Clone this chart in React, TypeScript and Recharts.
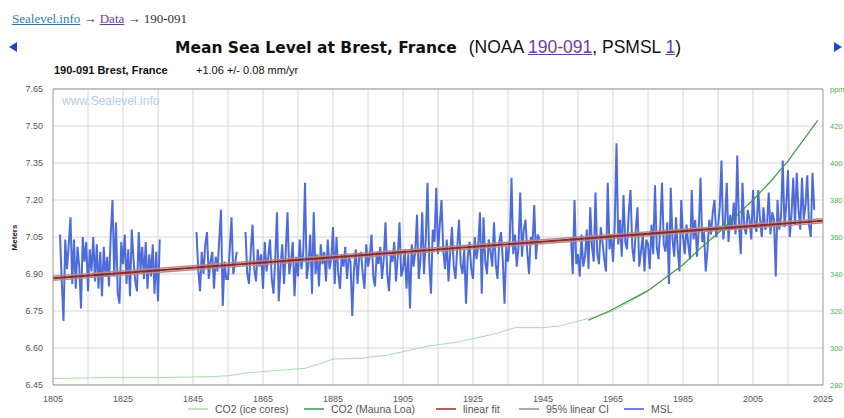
import { CartesianGrid, ComposedChart, Line, ReferenceLine, XAxis, YAxis } from "recharts";

// MSL, two readings per year (step 0.5 yr)
const mslStart1 = 1807;
const msl1 = [
  7.06, 6.87, 6.71, 7.04, 6.92, 7.02, 7.13, 6.86, 7.04, 6.84, 7.01, 6.93, 6.76, 7.05, 6.95, 7.03,
  6.83, 7.0, 6.91, 7.05, 6.87, 7.02, 6.84, 6.99, 6.81, 7.01, 6.89, 6.97, 6.85, 7.06, 7.2, 6.89,
  7.11, 6.82, 6.78, 7.03, 6.94, 7.06, 6.86, 7.0, 6.81, 7.08, 6.96, 6.87, 6.83, 7.07, 6.91, 7.01,
  6.88, 7.03, 6.84, 6.98, 6.89, 7.02, 6.82, 6.99, 6.79, 7.04,
];
const mslStart2 = 1846;
const msl2 = [
  7.07, 6.92, 6.83, 6.99, 6.9, 7.02, 7.07, 6.88, 6.95, 6.99, 6.84, 6.97, 6.91, 7.04, 7.16, 6.77,
  6.95, 6.88, 6.88, 7.0, 7.13, 6.9, 6.94, 6.99,
];
const mslStart3 = 1860;
const msl3 = [
  7.07, 6.9, 6.86, 6.99, 7.1, 6.92, 6.87, 7.0, 6.93, 6.98, 6.84, 7.03, 6.91, 6.97, 7.04, 6.88,
  6.82, 6.96, 7.15, 6.79, 6.93, 7.02, 6.86, 6.99, 7.15, 6.9, 6.95, 7.03, 6.81, 6.97, 6.89, 7.04,
  6.92, 6.99, 7.27, 6.88, 6.94, 7.06, 6.82, 7.15, 6.9, 6.98, 6.85, 7.02, 6.94, 6.99, 6.87, 7.04,
  6.92, 6.96, 7.09, 6.86, 7.05, 6.9, 6.84, 6.98, 6.93, 7.01, 6.88, 6.97, 6.95, 6.73, 6.92, 7.0,
  6.86, 6.97, 6.99, 6.9, 6.84, 7.02, 6.93, 6.97, 7.06, 6.89, 6.85, 6.99, 6.94, 7.01, 6.88, 6.96,
  7.11, 6.9, 6.83, 6.98, 6.95, 7.03, 6.87, 6.97, 7.11, 6.89, 6.92, 7.0, 6.84, 6.98, 6.76, 7.02,
  6.93, 6.99, 7.14, 6.88, 6.96, 7.15, 6.9, 7.04, 7.27, 6.95, 6.82, 7.08, 7.03, 7.25, 6.98, 7.1,
  7.2, 7.0, 6.92, 7.04, 6.87, 6.99, 7.09, 6.93, 6.88, 7.01, 7.12, 6.94, 6.9, 7.0, 6.78, 6.97,
  7.03, 6.92, 6.88, 7.05, 6.96, 7.02, 7.15, 6.82, 7.13, 6.95, 6.9, 7.04, 6.99, 6.93, 7.11, 6.94,
  6.88, 7.03, 7.07, 6.96, 6.78, 7.01, 6.95, 7.04, 7.29, 6.98, 7.06, 6.93, 7.01, 7.23, 6.97, 7.08,
  7.12, 6.99, 6.9, 7.05, 7.02, 7.18, 6.96, 7.06, 7.04,
];
const mslStart4 = 1953;
const msl4 = [
  7.05, 6.9, 7.2, 6.94, 6.98, 6.89, 7.06, 6.93, 6.97, 7.08, 6.92, 7.17, 7.01, 6.95, 7.23, 6.98,
  6.94, 7.09, 7.03, 6.96, 6.91, 7.27, 7.0, 7.06, 6.95, 7.1, 7.43, 7.02, 7.12, 6.97, 7.22, 7.03,
  7.0, 7.15, 7.24, 7.01, 6.95, 7.08, 7.17, 6.93, 6.99, 7.06, 6.91, 7.04, 7.02, 6.92, 7.1, 6.98,
  7.26, 7.01, 6.96, 7.09, 7.27, 7.02, 6.99, 7.11, 6.86, 7.25, 7.04, 6.97, 7.13, 7.0, 6.91, 7.2,
  7.05, 6.98, 7.1, 7.02, 6.96, 7.24, 7.04, 7.12, 6.97, 7.08, 7.29, 7.03, 7.07, 6.91, 7.0, 7.12,
  7.06, 7.15, 7.2, 7.05, 7.09, 7.17, 7.36, 7.04, 7.11, 7.27, 7.03, 7.14, 7.08, 7.19, 7.06, 7.38,
  7.1, 6.98, 7.27, 7.09, 7.06, 7.16, 7.12, 7.04, 7.24, 7.1, 7.07, 7.24, 7.12, 7.05, 7.17, 7.08,
  7.1, 7.23, 7.06, 7.15, 7.12, 6.89, 7.2, 7.08, 7.13, 7.36, 7.09, 7.18, 7.32, 7.05, 7.14, 7.29,
  7.1, 7.31, 7.16, 7.08, 7.29, 7.12, 7.18, 7.3, 7.1, 7.05, 7.31, 7.16,
];

// CO2 (ppm)
const iceYears = [1805, 1820, 1835, 1850, 1855, 1860, 1870, 1877, 1882, 1885, 1893, 1900, 1905, 1912, 1920, 1925, 1932, 1937, 1945, 1950, 1955, 1960, 1965, 1970, 1975];
const iceCo2 = [283.5, 284, 284, 284.5, 285, 286.5, 288, 289, 292, 294, 294.5, 296, 298, 301, 303, 305, 308, 311, 311, 312, 314.5, 317, 320, 325, 331];
const mloYears = [1958, 1964, 1970, 1975, 1980, 1985, 1990, 1995, 2000, 2005, 2010, 2015, 2020, 2023.5];
const mloCo2 = [315, 320, 326, 331, 338, 345, 354, 362, 371, 380, 390, 401, 414, 423];

// linear fit and 95% CI
const fitYears = [1805, 2025];
const fitValues = [6.883, 7.116];
const ciUpper = [6.891, 7.124];
const ciLower = [6.875, 7.108];

const xTicks = [1805, 1825, 1845, 1865, 1885, 1905, 1925, 1945, 1965, 1985, 2005, 2025];
const gridYears = [1815, 1825, 1835, 1845, 1855, 1865, 1875, 1885, 1895, 1905, 1915, 1925, 1935, 1945, 1955, 1965, 1975, 1985, 1995, 2005, 2015];
const yTicks = [6.45, 6.6, 6.75, 6.9, 7.05, 7.2, 7.35, 7.5, 7.65];
const co2Ticks = [280, 300, 320, 340, 360, 380, 400, 420, 440];

const legendItems = [
  { label: "CO2 (ice cores)", color: "#a8dca8", x: 188 },
  { label: "CO2 (Mauna Loa)", color: "#3a9a46", x: 304 },
  { label: "linear fit", color: "#a02828", x: 436 },
  { label: "95% linear CI", color: "#9a8aa8", x: 519 },
  { label: "MSL", color: "#3d5bd6", x: 624 },
];

const seg = (start: number, vals: number[]) => vals.map((v, i) => ({ year: start + i * 0.5, msl: v }));
const pairs = (xs: number[], ys: number[], key: string) => xs.map((x, i) => ({ year: x, [key]: ys[i] }));

const FONT = "'Liberation Sans', Arial, sans-serif";

export default function App() {
  const segments = [seg(mslStart1, msl1), seg(mslStart2, msl2), seg(mslStart3, msl3), seg(mslStart4, msl4)];
  const ice = pairs(iceYears, iceCo2, "co2");
  const mlo = pairs(mloYears, mloCo2, "co2");
  const fit = pairs(fitYears, fitValues, "v");
  const ciU = pairs(fitYears, ciUpper, "v");
  const ciL = pairs(fitYears, ciLower, "v");

  return (
    <div style={{ position: "absolute", left: 0, top: 0, width: 844, height: 418, background: "#fff", fontFamily: FONT, overflow: "hidden" }}>
      <div style={{ position: "absolute", left: 12, top: 11, fontSize: 13, color: "#333", whiteSpace: "nowrap", fontFamily: "'Liberation Serif', serif" }}>
        <span style={{ color: "#2a7ab0", textDecoration: "underline" }}>Sealevel.info</span> → <span style={{ color: "#6a3d9a", textDecoration: "underline" }}>Data</span> → 190-091
      </div>
      <svg style={{ position: "absolute", left: 0, top: 0 }} width={844} height={70}>
        <polygon points="9,47 17,42 17,52" fill="#1f46c8" />
        <polygon points="842,47 834,42 834,52" fill="#1f46c8" />
      </svg>
      <div style={{ position: "absolute", left: 175, top: 37, color: "#111", whiteSpace: "nowrap", lineHeight: "20px" }}>
        <span style={{ fontFamily: "'DejaVu Sans', sans-serif", fontWeight: "bold", fontSize: 15.5 }}>Mean Sea Level at Brest, France</span>
        <span style={{ marginLeft: 12, fontSize: 17.5 }}>
          (NOAA <span style={{ color: "#6a3d9a", textDecoration: "underline" }}>190-091</span>, PSMSL <span style={{ color: "#6a3d9a", textDecoration: "underline" }}>1</span>)
        </span>
      </div>
      <div style={{ position: "absolute", left: 54, top: 64, fontSize: 11, fontWeight: "bold", color: "#111", whiteSpace: "nowrap" }}>190-091 Brest, France</div>
      <div style={{ position: "absolute", left: 196, top: 64, fontSize: 11, color: "#111", whiteSpace: "nowrap" }}>+1.06 +/- 0.08 mm/yr</div>

      <ComposedChart width={844} height={418} margin={{ top: 89, right: 0, bottom: 13, left: 8 }} style={{ position: "absolute", left: 0, top: 0 }}>
        <CartesianGrid yAxisId="left" vertical={false} stroke="#d6d6d6" />
        {gridYears.map((y) => (
          <ReferenceLine key={y} x={y} yAxisId="left" stroke="#d6d6d6" />
        ))}
        <ReferenceLine y={7.65} yAxisId="left" stroke="#999" />
        <XAxis
          dataKey="year"
          type="number"
          domain={[1805, 2025]}
          ticks={xTicks}
          allowDataOverflow
          height={20}
          tickLine={false}
          tickMargin={5}
          axisLine={{ stroke: "#999" }}
          tick={{ fontSize: 9, fill: "#555", fontFamily: FONT }}
        />
        <YAxis
          yAxisId="left"
          width={45}
          domain={[6.45, 7.65]}
          ticks={yTicks}
          allowDataOverflow
          tickLine={false}
          tickMargin={4}
          axisLine={{ stroke: "#999" }}
          tickFormatter={(v: number) => v.toFixed(2)}
          tick={{ fontSize: 9, fill: "#555", fontFamily: FONT }}
        />
        <YAxis
          yAxisId="right"
          orientation="right"
          width={21}
          domain={[280, 440]}
          ticks={co2Ticks}
          allowDataOverflow
          tickLine={false}
          tickMargin={1}
          axisLine={{ stroke: "#999" }}
          tickFormatter={(v: number) => (v === 440 ? "ppm" : String(v))}
          tick={{ fontSize: 7.5, fill: "#4caf50", fontFamily: FONT }}
        />
        {segments.map((d, i) => (
          <Line key={i} yAxisId="left" data={d} dataKey="msl" stroke="#3f5ed8" strokeWidth={2} strokeOpacity={0.92} dot={false} isAnimationActive={false} />
        ))}
        <Line yAxisId="left" data={ciU} dataKey="v" stroke="#b88a8a" strokeWidth={1.5} dot={false} isAnimationActive={false} />
        <Line yAxisId="left" data={ciL} dataKey="v" stroke="#b88a8a" strokeWidth={1.5} dot={false} isAnimationActive={false} />
        <Line yAxisId="left" data={fit} dataKey="v" stroke="#8e2a2a" strokeWidth={2} dot={false} isAnimationActive={false} />
        <Line yAxisId="right" data={ice} dataKey="co2" stroke="#a8dca8" strokeWidth={1} dot={false} isAnimationActive={false} />
        <Line yAxisId="right" data={mlo} dataKey="co2" stroke="#3a9a46" strokeWidth={1.2} dot={false} isAnimationActive={false} />
      </ComposedChart>

      <div style={{ position: "absolute", left: 20, top: 210, width: 0, height: 0 }}>
        <div style={{ position: "absolute", left: -18, top: 23, transform: "rotate(-90deg)", fontSize: 8, fontWeight: "bold", color: "#222", whiteSpace: "nowrap" }}>Meters</div>
      </div>
      <div style={{ position: "absolute", left: 62, top: 94, fontSize: 12, color: "#b5cde0", whiteSpace: "nowrap" }}>www.Sealevel.info</div>

      <svg style={{ position: "absolute", left: 0, top: 398 }} width={844} height={20}>
        {legendItems.map((it) => (
          <g key={it.label}>
            <line x1={it.x} x2={it.x + 20} y1={11} y2={11} stroke={it.color} strokeWidth={1.5} />
            <text x={it.x + 27} y={15} fontSize={10.5} fill="#555" fontFamily={FONT}>
              {it.label}
            </text>
          </g>
        ))}
      </svg>
    </div>
  );
}
